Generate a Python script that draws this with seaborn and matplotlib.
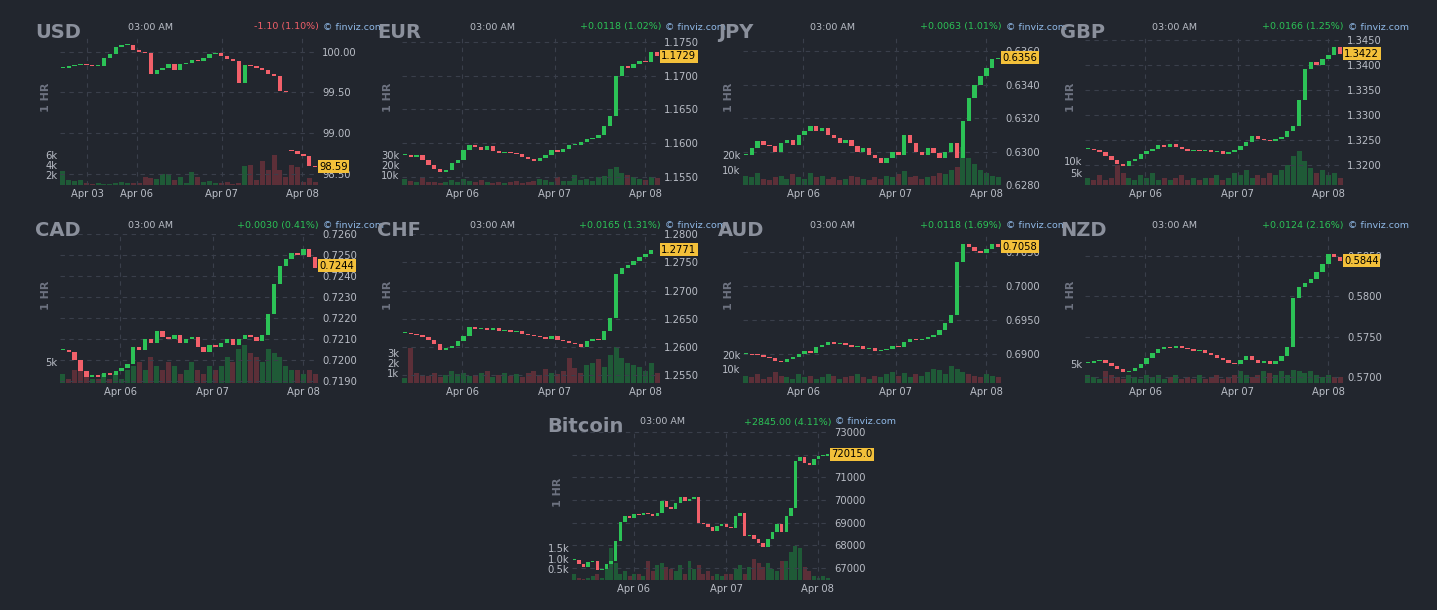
import matplotlib
matplotlib.use("Agg")
import matplotlib.pyplot as plt
import seaborn as sns
import numpy as np

sns.set_theme(style="dark")
plt.rcParams['font.family'] = ['DejaVu Sans']

W, H = 1437, 610
BG = "#22262e"
GREEN = "#2cc256"
RED = "#f2606a"
VGREEN = "#1f5a37"
VRED = "#5c2f38"
GRAY = "#8b909c"
TICK = "#b9bdc6"

names = ["USD", "EUR", "JPY", "GBP", "CAD", "CHF", "AUD", "NZD", "Bitcoin"]
changes = ["-1.10 (1.10%)", "+0.0118 (1.02%)", "+0.0063 (1.01%)", "+0.0166 (1.25%)",
           "+0.0030 (0.41%)", "+0.0165 (1.31%)", "+0.0118 (1.69%)", "+0.0124 (2.16%)",
           "+2845.00 (4.11%)"]
last_labels = ["98.59", "1.1729", "0.6356", "1.3422", "0.7244", "1.2771", "0.7058", "0.5844", "72015.0"]

usd = [99.80,99.82,99.84,99.85,99.83,99.82,99.82,99.92,99.97,100.05,100.08,100.08,100.02,100.00,99.98,99.73,99.78,99.80,99.85,99.78,99.85,99.86,99.90,99.88,99.92,99.97,99.98,99.94,99.91,99.88,99.62,99.83,99.82,99.80,99.78,99.72,99.70,99.52,99.50,98.78,98.75,98.72,98.60,98.59]
eur = [1.1582,1.1580,1.1583,1.1575,1.1568,1.1562,1.1558,1.1560,1.1570,1.1575,1.1590,1.1598,1.1594,1.1590,1.1596,1.1588,1.1586,1.1587,1.1585,1.1584,1.1580,1.1577,1.1574,1.1578,1.1583,1.1590,1.1587,1.1592,1.1597,1.1598,1.1602,1.1606,1.1608,1.1612,1.1625,1.1640,1.1700,1.1715,1.1712,1.1718,1.1722,1.1720,1.1735,1.1729]
jpy = [0.6298,0.6302,0.6306,0.6304,0.6303,0.6300,0.6305,0.6307,0.6304,0.6310,0.6312,0.6315,0.6312,0.6314,0.6310,0.6308,0.6305,0.6307,0.6303,0.6300,0.6302,0.6298,0.6296,0.6293,0.6296,0.6300,0.6298,0.6310,0.6305,0.6300,0.6298,0.6302,0.6299,0.6296,0.6300,0.6305,0.6296,0.6318,0.6332,0.6340,0.6345,0.6350,0.6355,0.6356]
gbp = [1.3232,1.3230,1.3226,1.3218,1.3210,1.3202,1.3198,1.3208,1.3212,1.3222,1.3228,1.3232,1.3240,1.3236,1.3242,1.3235,1.3232,1.3228,1.3230,1.3227,1.3229,1.3226,1.3228,1.3222,1.3225,1.3230,1.3238,1.3245,1.3258,1.3252,1.3250,1.3248,1.3252,1.3256,1.3268,1.3278,1.3330,1.3392,1.3405,1.3400,1.3412,1.3420,1.3435,1.3422]
cad = [0.7205,0.7204,0.7200,0.7195,0.7192,0.7193,0.7192,0.7194,0.7193,0.7195,0.7196,0.7198,0.7206,0.7205,0.7210,0.7208,0.7214,0.7211,0.7210,0.7212,0.7208,0.7210,0.7211,0.7206,0.7204,0.7207,0.7206,0.7208,0.7210,0.7207,0.7210,0.7212,0.7211,0.7209,0.7212,0.7222,0.7236,0.7245,0.7248,0.7251,0.7250,0.7253,0.7249,0.7244]
chf = [1.2625,1.2624,1.2622,1.2618,1.2612,1.2605,1.2595,1.2598,1.2602,1.2610,1.2620,1.2636,1.2632,1.2634,1.2630,1.2633,1.2628,1.2630,1.2626,1.2628,1.2624,1.2622,1.2620,1.2618,1.2615,1.2620,1.2612,1.2610,1.2608,1.2605,1.2600,1.2610,1.2615,1.2612,1.2628,1.2652,1.2730,1.2740,1.2745,1.2752,1.2760,1.2765,1.2772,1.2771]
aud = [0.6900,0.6899,0.6898,0.6896,0.6894,0.6890,0.6888,0.6892,0.6896,0.6900,0.6905,0.6902,0.6910,0.6913,0.6918,0.6915,0.6916,0.6914,0.6910,0.6912,0.6908,0.6909,0.6905,0.6906,0.6908,0.6912,0.6910,0.6918,0.6922,0.6920,0.6922,0.6925,0.6928,0.6935,0.6945,0.6958,0.7035,0.7062,0.7058,0.7052,0.7048,0.7055,0.7062,0.7058]
nzd = [0.5718,0.5720,0.5721,0.5718,0.5714,0.5710,0.5706,0.5708,0.5712,0.5716,0.5724,0.5730,0.5735,0.5738,0.5736,0.5739,0.5736,0.5735,0.5733,0.5734,0.5730,0.5728,0.5724,0.5722,0.5718,0.5716,0.5722,0.5726,0.5721,0.5718,0.5720,0.5716,0.5720,0.5726,0.5738,0.5798,0.5812,0.5816,0.5822,0.5830,0.5840,0.5852,0.5848,0.5844]
btc = [67350,67200,67050,67250,67300,66900,66950,67200,67300,68200,69050,69300,69200,69400,69350,69420,69380,69300,69450,69950,69700,69600,69850,70150,69950,70050,70150,69000,68950,68800,68650,68850,68950,68800,68750,69300,69450,68400,68450,68300,68100,67950,68300,68600,68950,68600,69300,69650,71700,71900,71650,71550,71800,71950,71950,72015]

open_overrides = {0: {39: 98.80}}

usd_vol = [2.8,1.0,0.8,1.0,0.3,0.2,0.3,0.2,0.2,0.3,0.5,0.4,0.3,0.4,1.6,1.4,1.2,2.2,2.2,1.0,1.5,0.4,2.6,1.5,0.5,0.8,0.4,0.3,0.5,0.2,0.3,3.8,4.0,1.0,4.8,3.0,6.0,3.0,1.6,4.0,3.5,0.5,1.4,0.6]
eur_vol = [6,4,3,8,3,3,2,3,5,3,6,4,3,5,3,2,3,2,3,4,2,3,4,6,5,3,8,4,4,10,5,6,4,8,9,16,18,12,10,8,6,5,8,7]
jpy_vol = [6,5,8,4,3,5,6,4,7,5,4,8,5,6,4,5,3,4,6,5,4,3,5,4,6,5,7,9,5,6,4,5,6,8,7,10,12,25,18,14,10,8,6,5]
gbp_vol = [3,2,4,2,3,8,5,3,2,4,3,5,2,3,2,3,4,2,3,2,3,3,4,2,3,5,4,6,3,4,3,5,4,6,8,12,14,10,7,5,6,4,5,3]
cad_vol = [2,1,3,4,2,1,1,2,1,2,1,3,4,5,3,6,4,3,5,4,2,3,5,3,2,4,3,4,6,5,8,9,7,6,5,8,7,6,4,3,3,2,3,2]
chf_vol = [0.5,3.5,1,0.8,0.7,1,0.6,0.8,1.2,0.9,1,0.7,0.8,1,1.2,0.6,0.8,1,0.7,0.9,0.6,1,1.2,0.8,1.4,1,0.9,1.2,2.5,1.5,1,1.8,2,2.4,1.6,2.8,3.6,2.5,2,1.8,1.6,1.2,2,1]
aud_vol = [5,4,6,3,4,8,5,4,3,6,4,5,3,4,6,5,3,4,5,6,4,3,5,4,6,8,5,7,4,6,5,8,10,9,6,12,10,8,6,5,4,6,5,4]
nzd_vol = [2,1.5,1,3,2,1.5,1,2,1.5,1,2,1.5,2,1,1.5,2,1,1.5,1,2,1,1.5,2,1,1.5,2,3,2,1.5,2,3,2.5,2,3,2,3.5,3,2.5,3,2,1.5,2,1.5,1.5]
btc_vol = [0.3,0.1,0.05,0.1,0.2,0.3,0.1,0.5,1.5,0.8,0.3,0.4,0.2,0.3,0.3,0.2,0.9,0.4,0.7,0.8,0.6,0.5,0.4,0.7,0.3,0.9,0.5,0.7,0.3,0.4,0.2,0.3,0.2,0.3,0.3,0.5,0.7,0.3,0.6,1.0,0.8,0.6,0.8,0.5,0.4,0.9,0.9,1.3,1.6,1.5,0.6,0.4,0.2,0.1,0.2,0.1]

closes = [usd, eur, jpy, gbp, cad, chf, aud, nzd, btc]
vols = [usd_vol, eur_vol, jpy_vol, gbp_vol, cad_vol, chf_vol, aud_vol, nzd_vol, btc_vol]

price_ticks = [[98.50, 99.00, 99.50, 100.00],
               [1.1550, 1.1600, 1.1650, 1.1700, 1.1750],
               [0.6280, 0.6300, 0.6320, 0.6340, 0.6360],
               [1.3200, 1.3250, 1.3300, 1.3350, 1.3400, 1.3450],
               [0.7190, 0.7200, 0.7210, 0.7220, 0.7230, 0.7240, 0.7250, 0.7260],
               [1.2550, 1.2600, 1.2650, 1.2700, 1.2750, 1.2800],
               [0.6900, 0.6950, 0.7000, 0.7050],
               [0.5700, 0.5750, 0.5800, 0.5850],
               [67000, 68000, 69000, 70000, 71000, 72000, 73000]]
price_fmt = ["{:.2f}"] + ["{:.4f}"] * 7 + ["{:.0f}"]
ylims = [(98.37, 100.19), (1.1538, 1.1759), (0.6280, 0.6369), (1.3160, 1.3457),
         (0.71891, 0.72590), (1.25366, 1.2799), (0.68574, 0.70765), (0.5693, 0.5877),
         (66474, 73044)]
vol_ticks = [[2, 4, 6], [10, 20, 30], [10, 20], [5, 10], [5], [1, 2, 3], [10, 20], [5], [0.5, 1.0, 1.5]]
vol_labels = [["2k", "4k", "6k"], ["10k", "20k", "30k"], ["10k", "20k"], ["5k", "10k"], ["5k"],
              ["1k", "2k", "3k"], ["10k", "20k"], ["5k"], ["0.5k", "1.0k", "1.5k"]]
vol_tops = [29.4, 147, 98, 61, 35, 14.7, 105, 38.7, 7.0]
date_labels = [["Apr 03", "Apr 06", "Apr 07", "Apr 08"]] + [["Apr 06", "Apr 07", "Apr 08"]] * 8
date_fracs = [[0.105, 0.298, 0.627, 0.938]] + [[0.233, 0.593, 0.942]] * 7 + [[0.24, 0.597, 0.953]]

origins = [(35, 22), (377, 22), (718, 22), (1060, 22),
           (35, 220), (377, 220), (718, 220), (1060, 220), (547, 417)]

fig = plt.figure(figsize=(W / 100, H / 100), dpi=100, facecolor=BG)

for k in range(9):
    x0, y0 = origins[k]
    left, right, top, bottom = x0 + 25, x0 + 283, y0 + 14, y0 + 163
    rect = [left / W, 1 - bottom / H, (right - left) / W, (bottom - top) / H]
    c = closes[k]
    n = len(c)
    opens = [c[0]] + c[:-1]
    for i, v in open_overrides.get(k, {}).items():
        opens[i] = v
    up = [cl >= op for cl, op in zip(c, opens)]
    idx = np.arange(n)

    axv = fig.add_axes(rect)
    axv.set_facecolor(BG)
    vdir = ["up" if u else "down" for u in up]
    m = min(n, len(vols[k]))
    sns.barplot(x=idx[:m], y=vols[k][:m], hue=vdir[:m],
                palette={"up": VGREEN, "down": VRED}, native_scale=True,
                legend=False, dodge=False, width=0.85, ax=axv, saturation=1, linewidth=0)
    axv.set_xlim(-0.5, n - 0.5)
    axv.set_ylim(0, vol_tops[k])
    axv.set_yticks(vol_ticks[k])
    axv.set_yticklabels(vol_labels[k])
    axv.tick_params(axis="y", colors=TICK, labelsize=7.2, length=0, pad=2)
    axv.set_xlabel("")
    axv.set_ylabel("")
    for s in axv.spines.values():
        s.set_visible(False)
    axv.grid(False)

    ax = axv.twinx()
    ax.set_xlim(-0.5, n - 0.5)
    ax.set_ylim(*ylims[k])
    ax.set_yticks(price_ticks[k])
    ax.set_yticklabels([price_fmt[k].format(t) for t in price_ticks[k]])
    ax.tick_params(axis="y", colors=TICK, labelsize=7.2, length=0, pad=3)
    xt = [f * n - 0.5 for f in date_fracs[k]]
    axv.set_xticks(xt)
    axv.set_xticklabels(date_labels[k])
    axv.tick_params(axis="x", colors=TICK, labelsize=7.2, length=0, pad=3)
    ax.grid(True, axis="y", color="#3a3f4b", linestyle=(0, (4, 4)), linewidth=0.8)
    for xv in xt:
        ax.axvline(xv, color="#3a3f4b", linestyle=(0, (4, 4)), linewidth=0.8, zorder=0)
    for s in ax.spines.values():
        s.set_visible(False)
    span = ylims[k][1] - ylims[k][0]
    bot = [min(o, cl) for o, cl in zip(opens, c)]
    hgt = [max(abs(cl - o), span * 0.006) for o, cl in zip(opens, c)]
    ax.bar(idx, hgt, bottom=bot, width=0.75,
           color=[GREEN if u else RED for u in up], linewidth=0, zorder=3)

    ax.text(1.005, (c[-1] - ylims[k][0]) / span, last_labels[k], transform=ax.transAxes,
            ha="left", va="center", fontsize=7.2, color="black", clip_on=False,
            bbox=dict(boxstyle="square,pad=0.15", fc="#f3c03a", ec="none"), zorder=10)

    fig.text(x0 / W, 1 - (y0 + 10) / H, names[k], fontsize=14, fontweight="bold",
             color=GRAY, ha="left", va="center")
    fig.text((x0 + 115) / W, 1 - (y0 + 5) / H, "03:00 AM", fontsize=6.8,
             color=TICK, ha="center", va="center")
    fig.text((x0 + 284) / W, 1 - (y0 + 5) / H, changes[k], fontsize=6.8,
             color=RED if changes[k].startswith("-") else GREEN, ha="right", va="center")
    fig.text((x0 + 288) / W, 1 - (y0 + 5) / H, "© finviz.com", fontsize=6.8,
             color="#8fb8e6", ha="left", va="center")
    fig.text((x0 + 11) / W, 1 - (y0 + 75) / H, "1 HR", fontsize=8, fontweight="bold",
             color="#6d7280", ha="center", va="center", rotation=90)

fig.savefig("out.png", dpi=100, facecolor=BG)
